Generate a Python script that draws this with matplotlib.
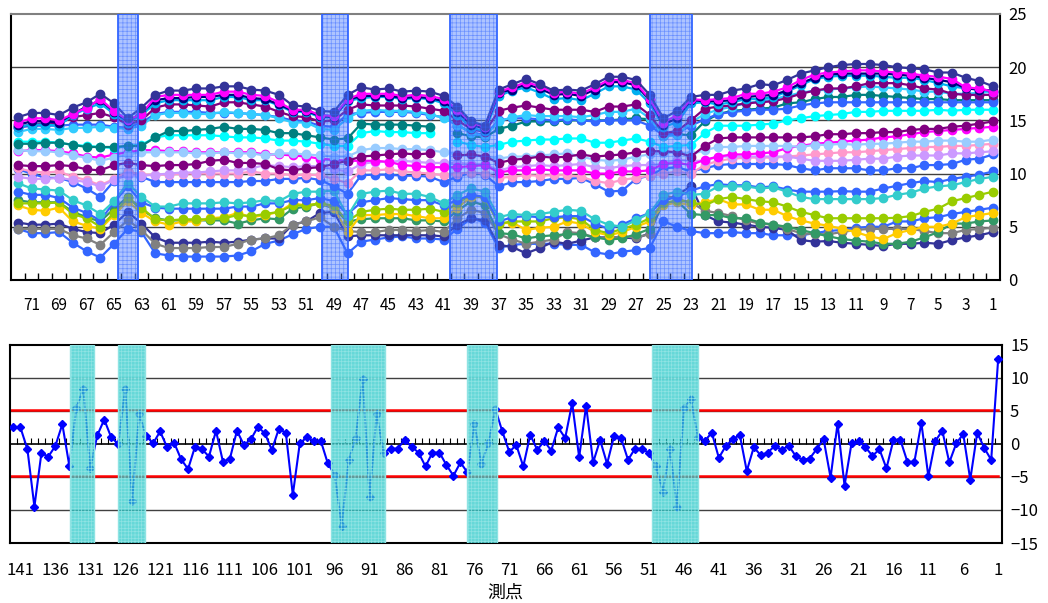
import numpy as np
import matplotlib
matplotlib.use('Agg')
import matplotlib.pyplot as plt

plt.rcParams['font.family'] = ['Noto Sans CJK JP', 'DejaVu Sans']
plt.rcParams['hatch.linewidth'] = 0.5

nan = np.nan

# upper panel: survey points 72 -> 1, one list per measurement series
top_points = list(range(72, 0, -1))

top_slate = [15.3, 15.7, 15.7, 15.5, 16.2, 16.7, 17.5, 16.6,
             15.2,
             16.2, 17.4, 17.8, 17.8, 18.0, 18.0, 18.2, 18.2, 17.9, 17.8, 17.4, 16.4, 16.3, 15.9,
             15.8, 17.4,
             18.1, 17.9, 18.0, 17.7, 17.8, 17.7, 17.3,
             16.3, 14.9, 14.5,
             17.9, 18.4, 18.9, 18.4, 17.8, 17.9, 17.8, 18.4, 19.1, 19.1, 18.8, 17.4,
             15.2, 15.9, 17.2,
             17.4, 17.4, 17.8, 18.0, 18.4, 18.3, 18.8, 19.4, 19.7, 20.0, 20.2, 20.3, 20.3, 20.2, 20.0,
             19.9, 19.8, 19.5, 19.5, 19.0, 18.7, 18.2]
top_magenta = [14.8, 15.2, 15.2, 15.0, 15.6, 16.2, 17.0, 15.9,
               15.0,
               15.6, 17.2, 17.4, 17.4, 17.4, 17.4, 17.7, 17.7, 17.4, 17.3, 16.7, 16.0, 16.0, 15.5,
               15.4, 17.0,
               17.5, 17.5, 17.5, 17.3, 17.4, 17.3, 17.0,
               16.0, 14.8, 14.4,
               17.7, 18.1, 18.6, 18.2, 17.6, 17.7, 17.5, 18.1, 18.8, 18.8, 18.5, 17.0,
               14.8, 15.5, 17.0,
               16.9, 17.0, 17.1, 17.5, 17.5, 17.7, 18.1, 18.8, 19.3, 19.5, 19.6, 19.7, 19.7, 19.6, 19.5,
               19.4, 19.2, 19.1, 18.9, 18.1, 18.0, 17.7]
top_navy = [14.6, 14.9, 14.9, 14.8, 15.6, 16.3, 16.9, 15.8,
            14.9,
            15.7, 16.9, 17.1, 17.1, 17.2, 17.2, 17.4, 17.4, 17.1, 17.0, 16.5, 15.9, 15.9, 15.4,
            15.3, 16.9,
            17.3, 17.3, 17.3, 17.1, 17.2, 17.1, 16.8,
            15.8, 14.6, 14.2,
            17.6, 17.9, 18.4, 18.0, 17.4, 17.5, 17.3, 17.9, 18.6, 18.6, 18.3, 16.9,
            14.6, 15.2, 16.9,
            16.8, 16.8, 16.9, 17.2, 17.3, 17.4, 17.8, 18.5, 19.0, 19.3, 19.4, 19.4, 19.4, 19.4, 19.3,
            19.2, 19.0, 18.8, 18.6, 18.0, 17.9, 17.8]
top_sky = [14.4, 14.6, 14.6, 14.5, 15.5, 16.1, 16.6, 15.6,
           14.8,
           15.5, 16.6, 16.9, 16.9, 16.9, 16.9, 17.2, 17.2, 16.9, 16.9, 16.4, 15.8, 15.8, 15.3,
           15.3, 16.8,
           17.1, 17.2, 17.2, 17.0, 17.1, 17.0, 16.6,
           15.5, 14.3, 14.0,
           17.3, 17.8, 18.1, 17.6, 17.0, 17.1, 16.9, 17.5, 18.2, 18.2, 17.9, 16.6,
           14.4, 14.8, 16.6,
           16.7, 16.5, 16.7, 17.0, 17.0, 17.2, 17.7, 18.3, 18.9, 19.1, 19.2, 19.2, 19.2, 19.1, 19.0,
           19.0, 18.8, 18.5, 18.2, 18.0, 17.9, 17.7]
top_purple = [14.4, 14.6, 14.7, 14.7, 15.3, 15.5, 15.7, 15.3,
              14.6,
              15.0, 16.2, 16.5, 16.5, 16.4, 16.3, 16.7, 16.7, 16.5, 16.3, 15.8, 15.4, 15.3, 14.9,
              15.0, 16.0,
              16.5, 16.4, 16.4, 16.4, 16.3, 16.1, 15.9,
              15.0, 14.2, 13.9,
              15.9, 16.2, 16.4, 16.2, 16.0, 16.0, 16.0, 15.8, 16.3, 16.3, 16.5, 15.5,
              13.8, 14.0, 15.0,
              16.1, 16.3, 16.4, 16.6, 16.7, 16.8, 17.1, 17.5, 17.8, 18.0, 18.0, 18.2, 18.5, 18.5, 18.5,
              18.3, 18.0, 17.9, 17.5, 17.4, 17.4, 17.4]
top_sky2 = [13.9, 14.2, 14.2, 14.1, 14.3, 14.3, 14.4, 14.3,
            14.2,
            14.5, 15.5, 15.7, 15.7, 15.6, 15.6, 15.8, 15.7, 15.6, 15.5, 15.2, 14.8, 14.8, 14.2,
            14.1, 15.2,
            15.9, 16.0, 15.9, 15.9, 15.8, 15.6, 15.2,
            14.6, 13.8, 13.5,
            14.9, 15.3, 15.5, 15.4, 15.4, 15.4, 15.3, 15.5, 15.8, 15.8, 16.1, 15.2,
            13.5, 13.6, 14.8,
            15.6, 16.0, 16.3, 16.6, 16.8, 17.0, 17.3, 17.6, 17.8, 17.9, 18.0, 18.1, 18.2, 18.1, 18.0,
            17.9, 17.7, 17.7, 17.5, 17.5, 17.6, 17.7]
top_blue = [14.3, 14.5, 14.5, 14.5, 14.6, 14.6, 14.6, 14.4,
            14.3,
            14.8, 15.6, 15.8, 15.8, 15.8, 15.7, 15.7, 15.7, 15.6, 15.5, 15.3, 15.0, 14.9, 14.5,
            14.4, 15.6,
            15.7, 15.8, 15.8, 15.8, 15.7, 15.5, 15.3,
            14.5, 13.9, 13.6,
            15.0, 15.2, 15.2, 15.1, 15.0, 15.1, 15.0, 14.9, 15.0, 15.0, 15.0, 14.5,
            13.6, 13.8, 14.5,
            15.1, 15.6, 15.8, 15.9, 16.0, 16.0, 16.1, 16.4, 16.6, 16.7, 16.7, 16.7, 16.7, 16.7, 16.7,
            16.7, 16.7, 16.7, 16.7, 16.7, 16.7, 16.7]
top_teal = [12.8, 12.8, 12.9, 12.9, 12.7, 12.5, 12.5, 12.5,
            12.6,
            12.6, 13.4, 14.0, 14.0, 14.1, 14.2, 14.4, 14.2, 14.2, 14.1, 13.8, 13.8, 13.6, 13.4,
            13.2, 13.3,
            14.7, 14.6, 14.6, 14.6, 14.5, 14.4, nan,
            13.8, 13.5, 13.4,
            14.2, 14.5, 14.9, 14.9, 14.9, 15.0, 15.0, 15.0, 15.0, 15.1, 15.2, 15.1,
            13.5, 13.7, 13.6,
            14.9, 15.6, 15.9, 16.0, 16.1, 16.2, 16.6, 16.7, 17.0, 17.2, 17.2, 17.4, 17.4, 17.3, 17.2,
            17.1, 17.0, 17.0, 16.9, 16.9, 16.9, 16.9]
top_cyan = [13.0, 13.0, 13.0, 12.9, 12.7, 12.6, 12.5, 12.4,
            12.6,
            12.7, 13.4, 13.6, 13.6, 13.6, 13.6, 13.5, 13.4, 13.4, 13.3, 13.1, 13.1, 13.0, 12.8,
            12.6, 12.6,
            13.8, 14.0, 13.9, 13.9, 13.8, 13.8, nan,
            13.0, 12.7, 12.5,
            12.7, 13.0, 13.1, 13.2, 13.2, 13.3, 13.3, 12.9, 12.9, 13.1, 13.3, 13.0,
            12.5, 12.6, 12.7,
            13.8, 14.5, 14.5, 14.5, 14.6, 14.7, 15.0, 15.2, 15.4, 15.5, 15.6, 15.8, 15.8, 15.9, 15.9,
            15.9, 15.9, 16.0, 15.9, 16.0, 16.0, 16.0]
mid_purple = [10.8, 10.7, 10.7, 10.8, 10.7, 10.4, 10.3, 10.8,
              11.0,
              10.8, 10.7, 10.8, 10.8, 10.9, 11.2, 11.3, 11.0, 11.0, 10.9, 10.4, 10.3, 10.5, 10.6,
              10.9, 11.2,
              11.6, 11.7, 11.8, 11.9, 11.8, 11.9, nan,
              11.7, 11.8, 11.6,
              11.0, 11.3, 11.4, 11.6, 11.5, 11.6, 11.8, 11.6, 11.7, 11.8, 12.0, 12.1,
              12.1, 12.0, 11.6,
              12.6, 13.3, 13.4, 13.4, 13.4, 13.4, 13.4, 13.4, 13.5, 13.7, 13.7, 13.8, 13.8, 13.9, 13.9,
              14.1, 14.2, 14.2, 14.4, 14.5, 14.7, 14.9]
mid_magenta = [12.1, 12.2, 12.2, 12.1, 11.9, 11.6, 11.5, 11.8,
               12.0,
               12.2, 12.2, 12.1, 12.1, 12.0, 12.0, 12.0, 12.0, 12.0, 11.8, 11.8, 11.7, 11.6, 11.4,
               11.3, 11.2,
               11.2, 11.2, 11.1, 10.8, 10.7, 10.6, 10.6,
               10.6, 10.7, 10.8,
               10.1, 10.3, 10.3, 10.4, 10.3, 10.3, 10.3, 10.0, 10.0, 10.2, 10.2, 10.3,
               10.9, 11.0, 10.8,
               11.3, 11.6, 11.8, 11.8, 11.9, 12.0, 12.4, 12.6, 12.8, 12.9, 13.0, 13.1, 13.2, 13.4, 13.5,
               13.7, 13.9, 14.0, 14.1, 14.2, 14.3, 14.4]
mid_lightblue = [12.2, 12.1, 12.1, 12.0, 11.7, 11.5, 11.2, 11.5,
                 11.8,
                 12.0, 12.0, 12.0, 12.0, 11.9, 11.9, 12.0, 11.9, 11.9, 11.7, 11.9, 11.9, 11.8, 11.7,
                 11.6, 11.6,
                 12.2, 12.4, 12.4, 12.3, 12.3, 12.2, 12.0,
                 11.8, 11.7, 11.6,
                 11.4, 11.6, 11.6, 11.7, 11.8, 11.9, 11.6, 11.3, 11.2, 11.3, 11.6, 11.8,
                 11.9, 12.0, 11.8,
                 12.2, 12.5, 12.5, 12.6, 12.6, 12.6, 12.6, 12.5, 12.7, 12.7, 12.8, 12.7, 12.8, 12.8, 12.9,
                 13.0, 13.0, 13.1, 13.1, 13.0, 13.0, 13.2]
mid_pink = [10.5, 10.2, 10.1, 10.2, 9.7, 9.4, 8.9, 9.5,
            10.2,
            9.9, 9.9, 9.9, 10.0, 10.0, 10.0, 10.0, 10.0, 10.2, 10.0, 10.0, 9.85, 9.9, 9.85,
            9.5, 9.1,
            10.3, 10.3, 10.4, 10.2, 10.1, 10.0, 9.85,
            10.0, 10.1, 10.0,
            9.6, 9.7, 9.85, 9.8, 9.85, 9.85, 9.7, 9.3, 9.1, 9.4, 9.6, 9.8,
            10.0, 10.2, 10.0,
            10.8, 11.2, 11.4, 11.5, 11.5, 11.5, 11.6, 11.7, 11.8, 11.9, 12.0, 12.0, 12.1, 12.2, 12.3,
            12.4, 12.5, 12.5, 12.6, 12.6, 12.7, 12.8]
mid_lavender = [9.7, 9.5, 9.5, 9.6, 9.4, 9.2, 8.8, 9.4,
                9.85,
                9.8, 9.9, 10.0, 10.1, 10.1, 10.2, 10.3, 10.3, 10.5, 10.8, 10.7, 10.6, 10.7, 10.7,
                10.4, 10.2,
                10.9, 11.1, 11.1, 11.2, 11.1, 11.0, 11.0,
                11.0, 10.9, 10.9,
                10.3, 10.6, 10.7, 10.8, 10.7, 10.8, 10.9, 10.6, 10.5, 10.7, 10.8, 10.8,
                10.9, 11.3, 11.2,
                11.2, 11.6, 11.6, 11.6, 11.6, 11.6, 11.6, 11.4, 11.2, 11.2, 11.2, 11.3, 11.4, 11.4, 11.6,
                11.7, 11.7, 11.7, 11.9, 11.9, 12.0, 12.1]
mid_blue = [10.4, 10.0, 9.6, 9.6, 9.2, 8.6, 7.8, 9.3,
            10.2,
            9.7, 9.2, 9.2, 9.2, 9.2, 9.2, 9.2, 9.2, 9.3, 9.3, 9.5, 9.5, 9.6, 9.4,
            8.8, 8.1,
            9.85, 9.9, 9.9, 9.8, 9.8, 9.7, 9.2,
            9.7, 10.1, 9.9,
            8.8, 9.2, 9.2, 9.3, 9.5, 9.5, 9.6, 9.0, 8.3, 8.4, 9.5, 9.8,
            10.5, 10.6, 10.2,
            10.5, 10.8, 10.9, 10.9, 10.9, 10.9, 10.8, 10.5, 10.3, 10.5, 10.5, 10.5, 10.3, 10.3, 10.5,
            10.5, 10.8, 10.8, 10.9, 11.3, 11.4, 11.8]
low_blue1 = [8.3, 8.0, 8.0, 7.7, 6.8, 6.3, 5.6, 7.3,
             8.8,
             7.3, 6.8, 6.7, 6.7, 6.7, 6.7, 6.7, 6.9, 6.9, 7.2, 7.2, 7.5, 7.5, 7.7,
             7.4, 6.2,
             7.3, 7.5, 7.7, 7.6, 7.5, 7.5, 7.0,
             7.5, 8.0, 7.8,
             5.5, 5.9, 6.0, 5.9, 5.9, 6.0, 6.0, 5.3, 4.8, 5.2, 5.8, 6.3,
             7.5, 7.8, 8.4,
             8.8, 9.0, 8.9, 8.9, 8.7, 8.8, 8.5, 8.3, 8.3, 8.3, 8.35, 8.3, 8.3, 8.6, 8.85,
             9.1, 9.3, 9.2, 9.5, 9.7, 9.9, 10.2]
low_turq = [9.1, 8.6, 8.5, 8.4, 7.5, 7.0, 6.2, 7.4,
            9.1,
            7.8, 6.9, 6.9, 7.2, 7.2, 7.2, 7.3, 7.2, 7.3, 7.5, 7.4, 8.1, 8.3, 8.3,
            8.4, 6.0,
            8.1, 8.3, 8.4, 8.1, 8.1, 7.8, 7.2,
            8.0, 8.6, 8.3,
            5.9, 6.2, 6.1, 6.2, 6.4, 6.6, 6.5, 5.7, 5.2, 5.0, 5.6, 6.3,
            8.0, 8.3, 8.0,
            8.1, 8.8, 8.8, 8.8, 8.6, 8.7, 8.3, 7.8, 7.6, 7.6, 7.6, 7.6, 7.6, 7.7, 8.0,
            8.2, 8.6, 8.8, 8.9, 9.2, 9.5, 9.7]
low_yg = [7.2, 7.2, 7.2, 7.3, 6.2, 5.8, 5.0, 6.3,
          7.7,
          6.8, 5.7, 5.6, 5.7, 5.7, 5.7, 5.8, 6.1, 6.0, 6.2, 6.4, 7.0, 7.0, 7.2,
          7.0, 5.5,
          6.4, 6.6, 6.7, 6.6, 6.6, 6.7, 6.4,
          7.2, 8.0, 7.7,
          5.3, 5.5, 5.5, 5.5, 5.8, 5.9, 5.7, 4.7, 4.4, 4.8, 5.2, 5.8,
          7.2, 7.5, 7.3,
          7.0, 7.6, 7.8, 7.6, 7.4, 7.3, 6.9, 6.4, 6.1, 5.8, 5.8, 5.8, 5.8, 5.8, 5.85,
          6.0, 6.4, 6.7, 7.4, 7.7, 8.0, 8.3]
low_gold = [7.0, 6.6, 6.5, 6.8, 5.5, 5.1, 4.8, 6.1,
            7.4,
            6.3, 5.5, 5.2, 5.5, 5.5, 5.8, 5.9, 6.3, 5.9, 6.1, 6.4, 7.2, 7.0, 7.2,
            6.8, 4.5,
            6.1, 6.1, 6.2, 6.2, 6.0, 5.8, 5.8,
            6.8, 7.8, 7.8,
            5.3, 5.4, 4.7, 4.9, 5.0, 5.5, 5.3, 4.5, 4.2, 4.5, 5.0, 5.5,
            7.0, 7.3, 7.0,
            7.3, 7.6, 7.1, 7.1, 6.6, 6.6, 6.0, 5.6, 5.3, 5.1, 4.8, 4.5, 4.1, 3.85, 4.4,
            4.7, 5.0, 5.0, 5.3, 5.9, 6.1, 6.3]
low_green = [7.5, 7.3, 7.3, 7.3, 6.4, 5.9, 5.5, 6.7,
             7.8,
             6.6, 5.8, 5.6, 5.6, 5.6, 5.6, 5.6, 5.3, 5.6, 5.8, 5.7, 6.7, 6.9, 7.2,
             6.7, 5.5,
             5.7, 5.8, 5.8, 5.8, 5.6, 5.6, 5.5,
             6.5, 7.4, 7.0,
             4.4, 4.3, 3.9, 4.1, 4.2, 4.3, 4.3, 4.0, 3.8, 3.9, 4.3, 4.8,
             7.2, 7.4, 6.2,
             6.1, 6.1, 5.8, 5.8, 5.4, 5.2, 5.0, 4.7, 4.4, 4.1, 3.85, 3.7, 3.6, 3.4, 3.4,
             3.6, 4.0, 4.5, 5.3, 5.3, 5.5, 5.6]
low_gray = [4.8, 4.8, 4.8, 4.8, 4.2, 3.9, 3.3, 4.5,
            5.6,
            4.7, 3.4, 3.0, 3.0, 3.0, 3.1, 3.1, 3.4, 3.8, 3.9, 4.2, 5.2, 5.5, 5.9,
            5.0, 4.6,
            4.5, 4.5, 4.7, 4.7, 4.6, 4.7, 4.5,
            5.8, 6.6, 6.3,
            4.3, 3.8, 3.4, 3.6, 3.8, 4.5, 4.4, 4.0, 3.9, 4.1, 4.0, 4.3,
            8.0, 7.6, 7.3,
            6.5, 6.3, 6.0, 5.6, 5.3, 5.2, 4.8, 4.4, 4.3, 4.3, 4.5, 4.7, 4.8, 4.8, 4.8,
            4.8, 4.6, 4.4, 4.4, 4.7, 4.8, 4.9]
low_slate = [5.4, 5.2, 5.2, 5.3, 4.8, 4.5, 4.4, 5.2,
             6.4,
             5.3, 4.0, 3.5, 3.5, 3.5, 3.6, 3.5, 3.6, 3.8, 3.9, 3.9, 5.2, 5.5, 6.3,
             6.4, 4.1,
             4.2, 4.2, 4.2, 4.2, 4.2, 4.2, 4.1,
             5.2, 5.8, 5.6,
             3.3, 3.1, 2.5, 3.0, 3.6, 3.4, 3.7, 4.0, 4.0, 4.0, 3.9, 4.4,
             7.4, 8.0, 8.8,
             6.1, 5.5, 5.4, 5.2, 5.0, 4.9, 4.7, 3.75, 3.6, 3.66, 3.5, 3.4, 3.3, 3.2, 3.4,
             3.4, 3.5, 3.4, 3.75, 4.0, 4.2, 4.5]
low_blue2 = [4.8, 4.4, 4.4, 4.5, 3.5, 2.7, 2.1, 3.4,
             4.8,
             4.5, 2.5, 2.3, 2.2, 2.2, 2.2, 2.2, 2.3, 2.7, 3.4, 3.7, 4.3, 4.8, 5.0,
             5.0, 2.5,
             3.6, 3.8, 4.0, 4.1, 3.9, 3.9, 3.8,
             4.8, 5.8, 5.4,
             3.0, 3.3, 3.4, 3.4, 3.4, 3.3, 3.3, 2.6, 2.4, 2.66, 2.8, 3.0,
             5.5, 5.0, 4.6,
             4.4, 4.4, 4.5, 4.4, 4.4, 4.2, 4.2, 4.2, 4.4, 4.6, 4.7, 4.9, 5.0, 5.0, 5.5,
             5.5, 5.8, 5.9, 6.2, 6.4, 6.6, 6.8]

top_series = [
    (low_blue2, '#3366FF'), (low_slate, '#333399'), (low_gray, '#808080'),
    (low_green, '#339966'), (low_gold, '#FFCC00'), (low_yg, '#99CC00'),
    (low_blue1, '#3366FF'), (low_turq, '#33CCCC'),
    (mid_blue, '#3366FF'), (mid_pink, '#FF99CC'), (mid_lavender, '#CC99FF'),
    (mid_magenta, '#FF00FF'), (mid_lightblue, '#99CCFF'), (mid_purple, '#800080'),
    (top_cyan, '#00FFFF'), (top_teal, '#008080'), (top_blue, '#3366FF'),
    (top_sky2, '#33CCFF'), (top_purple, '#800080'), (top_sky, '#00B0F0'),
    (top_navy, '#000080'), (top_magenta, '#FF00FF'), (top_slate, '#333399'),
]
top_bands = [(64.71, 63.26), (49.87, 47.97), (40.55, 37.13), (25.99, 22.94)]

# lower panel: differences at points 142 -> 1
diff_points = list(range(142, 0, -1))
diff_vals = [2.6, 2.5, -0.8, -9.5, -1.4, -1.9, -0.3, 3.0, -3.3, 5.4,
             8.4, -3.7, 1.3, 3.7, 1.0, 0.0, 8.4, -8.6, 4.5, 1.2,
             0.1, 1.9, -0.5, 0.2, -2.3, -3.8, -0.4, -0.8, -1.9, 2.0,
             -2.7, -2.2, 2.0, -0.15, 0.7, 2.6, 1.6, -0.9, 2.3, 1.7,
             -7.7, 0.1, 1.0, 0.5, 0.5, -2.9, -4.7, -12.4, -2.5, 0.9,
             9.9, -8.0, 4.6, -1.3, -0.7, -0.7, 0.6, -0.4, -1.3, -3.4,
             -1.3, -1.3, -3.2, -4.8, -2.8, -4.3, 3.0, -3.0, 0.1, 5.3,
             1.9, -1.2, -0.15, -3.4, 1.4, -0.9, 0.45, -1.0, 2.5, 0.9,
             6.2, -2.0, 5.8, -2.8, 0.6, -3.0, 1.2, 0.9, -2.4, -0.7,
             -0.7, -1.4, -3.4, -7.2, -0.8, -9.5, 5.4, 6.8, 1.1, 0.5,
             1.7, -2.1, -0.3, 0.7, 1.4, -4.1, -0.5, -1.7, -1.3, -0.3,
             -0.9, -0.25, -1.8, -2.4, -2.2, -0.8, 0.75, -5.1, 3.1, -6.3,
             0.1, 0.45, -0.5, -1.8, -0.8, -3.7, 0.6, 0.6, -2.7, -2.7,
             3.2, -4.9, 0.45, 2.0, -2.8, 0.1, 1.5, -5.4, 1.7, -0.6,
             -2.4, 12.9]
diff_limits = [5.1, -4.8]
diff_bands = [(133.9, 130.5), (127.0, 123.2), (96.6, 88.8), (77.0, 72.8), (50.6, 44.0)]

for vals, _ in top_series:
    assert len(vals) == len(top_points)
assert len(diff_vals) == len(diff_points)

fig = plt.figure(figsize=(10.48, 6.03), dpi=100)
ax1 = fig.add_axes([0.0105, 0.5357, 0.9437, 0.4411])
ax2 = fig.add_axes([0.0095, 0.0995, 0.9463, 0.3284])

# ---- upper panel ----
for y in (5, 10, 15, 20):
    ax1.axhline(y, color='#404040', lw=1, zorder=1)
for vals, color in top_series:
    ax1.plot(top_points, vals, color=color, lw=1.6, marker='o', ms=6, zorder=2)
for a, b in top_bands:
    ax1.axvspan(a, b, facecolor=(0.25, 0.45, 1.0, 0.42), edgecolor='none', zorder=3)
    ax1.axvspan(a, b, facecolor='none', edgecolor=(0.2, 0.4, 1.0, 0.55),
                hatch='++++', lw=0, zorder=3)
    ax1.axvspan(a, b, facecolor='none', edgecolor='#3366FF', lw=1.3, zorder=3)

ax1.set_xlim(72.5, 0.5)
ax1.set_ylim(0, 25)
ax1.yaxis.tick_right()
ax1.set_yticks(range(0, 26, 5))
ax1.set_xticks(top_points[1::2])
ax1.set_xticks(np.arange(1.5, 72, 1), minor=True)
ax1.tick_params(axis='x', which='major', length=0, pad=12, labelsize=11)
ax1.tick_params(axis='x', which='minor', direction='in', length=5, width=1, color='black')
ax1.tick_params(axis='y', length=0, pad=6, labelsize=12)
for s in ax1.spines.values():
    s.set_linewidth(1.5)
    s.set_color('black')
ax1.spines['top'].set_color('#808080')

# ---- lower panel ----
for y in (-10, -5, 5, 10):
    ax2.axhline(y, color='#404040', lw=1, zorder=1)
ax2.axhline(0, color='black', lw=1.2, zorder=1)
ax2.vlines(np.arange(1.5, 142, 1), 0, 0.85, color='black', lw=0.8, zorder=1)
for v in diff_limits:
    ax2.plot([142.5, 1], [v, v], color='#FF0000', lw=1.8, zorder=2)
ax2.plot(diff_points, diff_vals, color='#0000FF', lw=1.5, marker='D', ms=4.5, zorder=3)
for a, b in diff_bands:
    ax2.axvspan(a, b, facecolor=(0.2, 0.8, 0.8, 0.75), edgecolor='none', zorder=4)
    ax2.axvspan(a, b, facecolor='none', edgecolor='#8FE3E3', hatch='+++++', lw=1, zorder=4)

ax2.set_xlim(142.5, 0.5)
ax2.set_ylim(-15, 15)
ax2.yaxis.tick_right()
ax2.set_yticks(range(-15, 16, 5))
ax2.set_xticks(range(141, 0, -5))
ax2.tick_params(axis='x', length=0, pad=14, labelsize=12)
ax2.tick_params(axis='y', length=0, pad=6, labelsize=12)
ax2.set_xlabel('測点', fontsize=13, labelpad=3)
for s in ax2.spines.values():
    s.set_linewidth(1.5)
    s.set_color('black')

fig.savefig('out.png', dpi=100)
